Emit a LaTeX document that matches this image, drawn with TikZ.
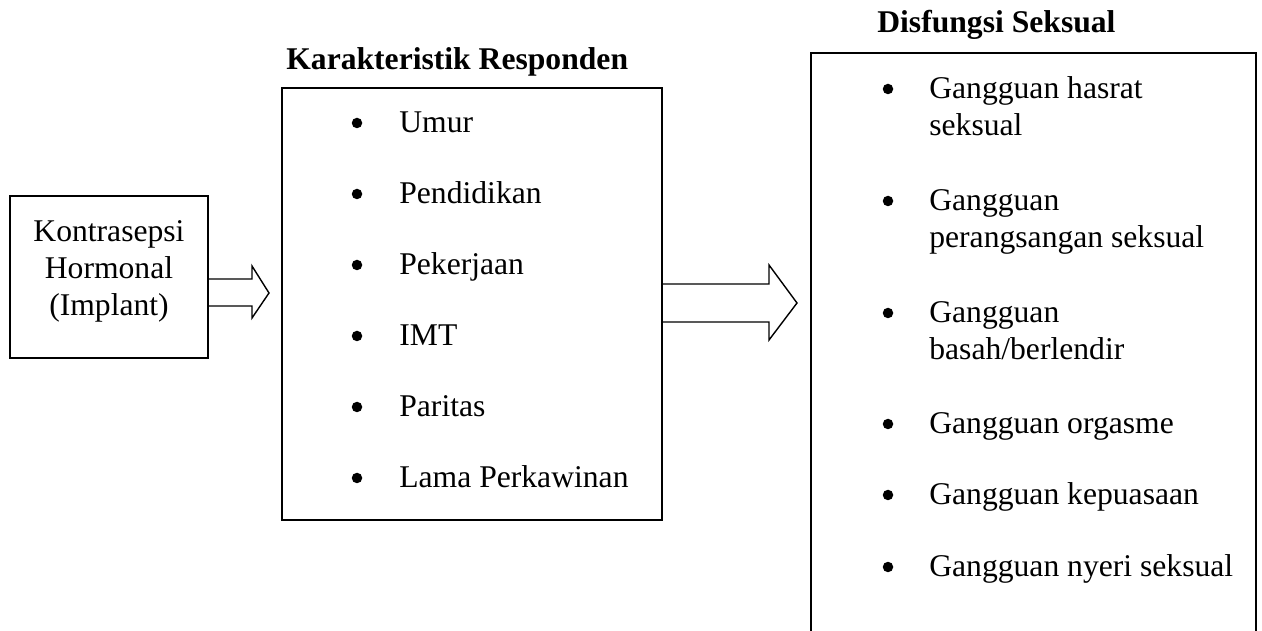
\documentclass[tikz,border=0pt]{standalone}
\usepackage{fontspec}
\setmainfont{Liberation Serif}
\usetikzlibrary{calc}
\begin{document}
\begin{tikzpicture}[x=0.02cm,y=-0.02cm,
  every node/.style={font=\fontsize{18}{20}\selectfont, inner sep=0pt},
  boxline/.style={draw=black, line width=1.1pt},
  blockarrow/.style={draw=black, line width=0.8pt, line join=miter},
  item/.style={anchor=base west},
  title/.style={anchor=base west, font=\fontsize{18}{20}\selectfont\bfseries},
  dot/.style={circle, fill=black, minimum size=0.21cm, inner sep=0pt}]
\useasboundingbox (0,0) rectangle (1262,631);

% Box 1
\node[boxline, minimum width=3.96cm, minimum height=3.24cm] (b1) at (109,277) {};
\node[anchor=base] (k1) at (109,242) {Kontrasepsi};
\node[anchor=base] (k2) at (109,279) {Hormonal};
\node[anchor=base] (k3) at (109,316) {(Implant)};

% Box 2
\node[title] (t2) at (286,70) {Karakteristik Responden};
\node[boxline, minimum width=7.6cm, minimum height=8.64cm] (b2) at (472,304) {};
\foreach \name/\txt/\y in {u1/Umur/133, u2/Pendidikan/204, u3/Pekerjaan/275, u4/IMT/346, u5/Paritas/417, u6/Lama Perkawinan/488}{
  \node[dot] (\name d) at (357,\y-10) {};
  \node[item] (\name) at (399,\y) {\txt};
}

% Box 3 (open at the bottom edge)
\node[title] (t3) at (877,33) {Disfungsi Seksual};
\coordinate (b3bl) at (811,640);
\coordinate (b3tl) at (811,53);
\coordinate (b3tr) at (1256,53);
\coordinate (b3br) at (1256,640);
\draw[boxline] (b3bl) -- (b3tl) -- (b3tr) -- (b3br);
\foreach \name/\txt/\y in {d1/Gangguan hasrat/99, d2/Gangguan/211, d3/Gangguan/323, d4/Gangguan orgasme/434, d5/Gangguan kepuasaan/505, d6/Gangguan nyeri seksual/577}{
  \node[dot] (\name d) at (888,\y-10) {};
  \node[item] (\name) at (929,\y) {\txt};
}
\node[item] (d1b) at (929,136) {seksual};
\node[item] (d2b) at (929,248) {perangsangan seksual};
\node[item] (d3b) at (929,360) {basah/berlendir};

% Arrow 1: box1 -> box2
\draw[blockarrow] ($(b1.east|-0,279)$) -- (252,279) -- (252,266) -- (269,293)
  -- (252,318) -- (252,306) -- ($(b1.east|-0,306)$);
% Arrow 2: box2 -> box3
\draw[blockarrow] ($(b2.east|-0,284)$) -- (769,284) -- (769,265) -- (797,303)
  -- (769,340) -- (769,322) -- ($(b2.east|-0,322)$);
\end{tikzpicture}
\end{document}
